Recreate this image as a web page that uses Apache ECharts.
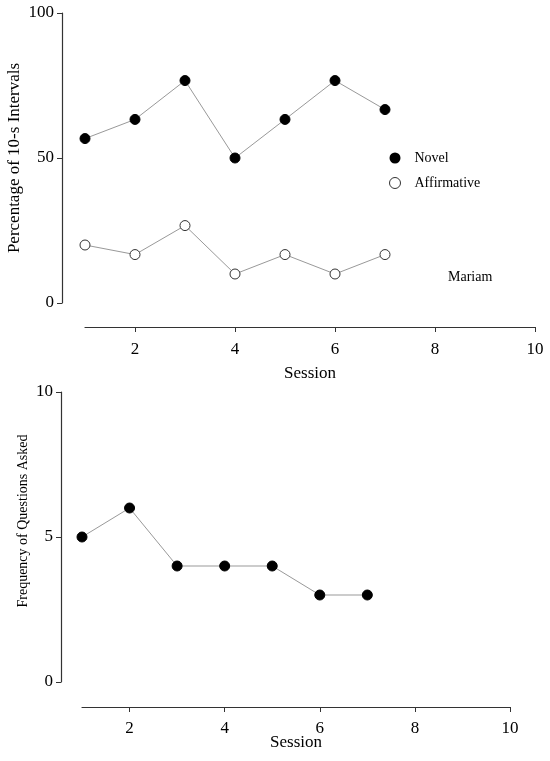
<!DOCTYPE html>
<html lang="en">
<head>
<meta charset="UTF-8">
<title>Mariam</title>
<script src="https://cdn.jsdelivr.net/npm/echarts@6.0.0/dist/echarts.min.js"></script>
<style>
  html, body { margin: 0; padding: 0; background: #fff; }
  #container { width: 550px; height: 761px; }
</style>
</head>
<body>
<div id="container"></div>
<script type="text/javascript">
// data
var sessions = [1, 2, 3, 4, 5, 6, 7];
var novel = [56.7, 63.3, 76.7, 50, 63.3, 76.7, 66.7];
var affirmative = [20, 16.7, 26.7, 10, 16.7, 10, 16.7];
var questions = [5, 6, 4, 4, 4, 3, 3];
var xTicks = [2, 4, 6, 8, 10];

function pairs(vals) {
    return sessions.map(function (s, i) { return [s, vals[i]]; });
}

var serif = 'Liberation Serif';
var axisColor = '#333';
var lineColor = '#999';

function xAxisFor(idx, offset, margin, gap) {
    return {
        type: 'value',
        gridIndex: idx,
        min: 1,
        max: 10,
        offset: offset,
        name: 'Session',
        nameLocation: 'middle',
        nameGap: gap,
        nameMoveOverlap: false,
        nameTextStyle: { fontFamily: serif, fontSize: 17, color: '#000' },
        axisLine: { show: true, onZero: false, lineStyle: { color: axisColor, width: 1.2 } },
        axisTick: { show: true, length: 5, customValues: xTicks, lineStyle: { color: axisColor } },
        axisLabel: { customValues: xTicks, fontFamily: serif, fontSize: 17, color: '#000', margin: margin },
        splitLine: { show: false }
    };
}

var dom = document.getElementById('container');
var myChart = echarts.init(dom);

var option = {
    animation: false,
    backgroundColor: '#fff',
    grid: [
        { left: 85, right: 15, top: 13, bottom: 458, outerBoundsMode: 'none' },
        { left: 82, right: 40, top: 392, bottom: 79, outerBoundsMode: 'none' }
    ],
    title: {
        text: 'Mariam',
        left: 443,
        top: 265,
        textStyle: { fontFamily: serif, fontSize: 14, fontWeight: 'normal', color: '#000' }
    },
    legend: {
        data: [
            { name: 'Novel', itemStyle: { color: '#000', borderColor: '#000' } },
            { name: 'Affirmative', itemStyle: { color: '#fff', borderColor: '#333', borderWidth: 1 } }
        ],
        orient: 'vertical',
        left: 384,
        top: 146,
        itemGap: 11,
        itemWidth: 11,
        itemHeight: 11,
        icon: 'circle',
        textStyle: { fontFamily: serif, fontSize: 14, color: '#000', padding: [0, 0, 0, 9] }
    },
    xAxis: [
        xAxisFor(0, 24, 14, 38),
        xAxisFor(1, 25, 13, 27)
    ],
    yAxis: [
        {
            type: 'value', gridIndex: 0, min: 0, max: 100, interval: 50, offset: 23,
            name: 'Percentage of 10-s Intervals',
            nameLocation: 'middle', nameGap: 39, nameMoveOverlap: false,
            nameTextStyle: { fontFamily: serif, fontSize: 17, color: '#000' },
            axisLine: { show: true, onZero: false, lineStyle: { color: axisColor, width: 1.2 } },
            axisTick: { show: true, length: 5, lineStyle: { color: axisColor } },
            axisLabel: { fontFamily: serif, fontSize: 17, color: '#000', margin: 8 },
            splitLine: { show: false }
        },
        {
            type: 'value', gridIndex: 1, min: 0, max: 10, interval: 5, offset: 21,
            name: 'Frequency of Questions Asked',
            nameLocation: 'middle', nameGap: 31, nameMoveOverlap: false,
            nameTextStyle: { fontFamily: serif, fontSize: 14, color: '#000', padding: [0, 0, 0, 32] },
            axisLine: { show: true, onZero: false, lineStyle: { color: axisColor, width: 1.2 } },
            axisTick: { show: true, length: 5, lineStyle: { color: axisColor } },
            axisLabel: { fontFamily: serif, fontSize: 17, color: '#000', margin: 8 },
            splitLine: { show: false }
        }
    ],
    series: [
        {
            name: 'Novel', type: 'line', xAxisIndex: 0, yAxisIndex: 0,
            data: pairs(novel),
            symbol: 'circle', symbolSize: 10,
            lineStyle: { color: lineColor, width: 1 },
            itemStyle: { color: '#000', borderColor: '#000' }
        },
        {
            name: 'Affirmative', type: 'line', xAxisIndex: 0, yAxisIndex: 0,
            data: pairs(affirmative),
            symbol: 'circle', symbolSize: 10,
            lineStyle: { color: lineColor, width: 1 },
            itemStyle: { color: '#fff', borderColor: '#333', borderWidth: 1 }
        },
        {
            name: 'Questions', type: 'line', xAxisIndex: 1, yAxisIndex: 1,
            data: pairs(questions),
            symbol: 'circle', symbolSize: 10,
            lineStyle: { color: lineColor, width: 1 },
            itemStyle: { color: '#000', borderColor: '#000' }
        }
    ]
};

if (option && typeof option === 'object') {
    myChart.setOption(option, true);
}
</script>
</body>
</html>
